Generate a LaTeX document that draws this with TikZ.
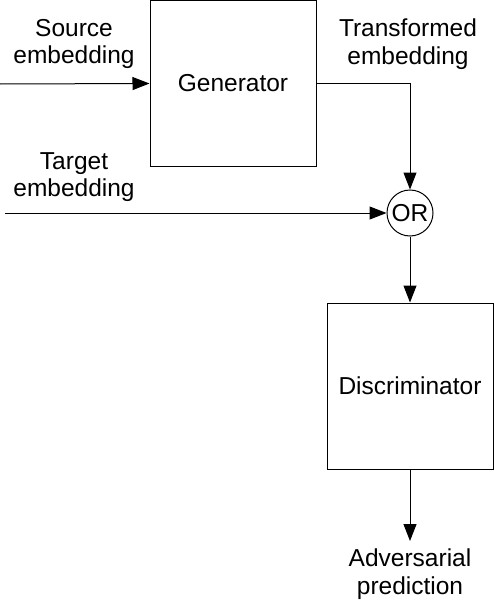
\documentclass[tikz,border=0pt]{standalone}
\usepackage{fontspec}
\setmainfont{Liberation Sans}
\usetikzlibrary{arrows.meta}
\tikzstyle{block}=[draw,line width=1pt,minimum width=166pt,minimum height=166pt,inner sep=0pt]
\tikzstyle{flow}=[line width=1pt,-{Triangle[length=17pt,width=13pt]}]
\tikzstyle{txt}=[align=center,inner sep=0pt,font=\fontsize{24.5}{27.5}\selectfont]

\begin{document}
\begin{tikzpicture}[x=1pt,y={(0pt,-1pt)}]
          \useasboundingbox (0,0) rectangle (494,602);

          \node[block,txt] (gen) at (233,83.5) {Generator};
          \node[block,txt] (disc) at (410,386) {Discriminator};
          \node[draw,circle,line width=1pt,minimum size=46pt,inner sep=0pt,txt] (orgate) at (410,213) {OR};

          \coordinate (src) at (0,84);
          \coordinate (tgt) at (5,213);
          \coordinate (out) at (410,541);

          \node[txt] (srclabel) at (74,44) {Source\\embedding};
          \node[txt] (trlabel) at (408,44) {Transformed\\embedding};
          \node[txt] (tgtlabel) at (74,177) {Target\\embedding};
          \node[txt] (advlabel) at (410,574) {Adversarial\\prediction};

          \draw[flow] (src) -- (gen.west);
          \draw[flow] (gen.east) -| (orgate.north);
          \draw[flow] (tgt) -- (orgate.west);
          \draw[flow] (orgate.south) -- (disc.north);
          \draw[flow] (disc.south) -- (out);
        \end{tikzpicture}
\end{document}
